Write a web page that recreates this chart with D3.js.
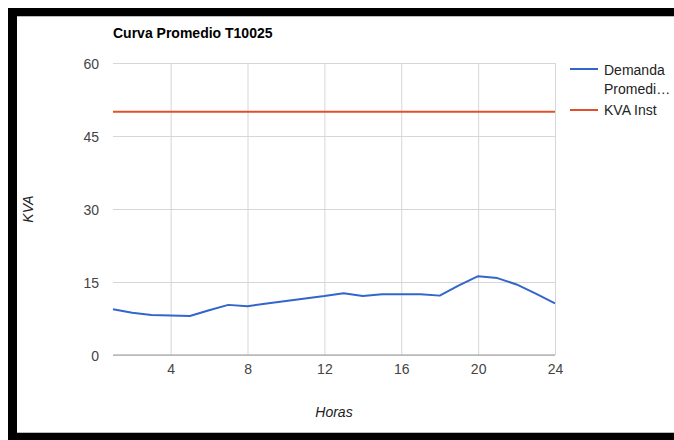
<!DOCTYPE html>
<html>
<head>
<meta charset="utf-8">
<script src="https://cdn.jsdelivr.net/npm/d3@7"></script>
<style>
  body { margin: 0; background: #fff; }
  svg { display: block; font-family: "Liberation Sans", Arial, sans-serif; }
  .grid line { stroke: #d6d6d6; stroke-width: 1; }
  .grid .domain { display: none; }
  .tick text { fill: #444; font-size: 14px; font-family: "Liberation Sans", Arial, sans-serif; }
</style>
</head>
<body>
<div id="chart"></div>
<script>
// Chart data
const hours = [1, 2, 3, 4, 5, 6, 7, 8, 9, 10, 11, 12, 13, 14, 15, 16, 17, 18, 19, 20, 21, 22, 23, 24];
const demanda = [9.4, 8.7, 8.2, 8.1, 8.0, 9.2, 10.3, 10.0, 10.6, 11.1, 11.6, 12.1,
                 12.7, 12.1, 12.5, 12.5, 12.5, 12.2, 14.3, 16.2, 15.8, 14.5, 12.6, 10.6];
const kvaInst = [50, 50, 50, 50, 50, 50, 50, 50, 50, 50, 50, 50,
                 50, 50, 50, 50, 50, 50, 50, 50, 50, 50, 50, 50];
const xTicks = [4, 8, 12, 16, 20, 24];
const yTicks = [0, 15, 30, 45, 60];
const seriesNames = ["Demanda Promedi\u2026", "KVA Inst"];
const seriesColors = ["#3366cc", "#e0502c"];

const W = 674, H = 440;
const margin = {top: 63, right: 119, bottom: 85, left: 113};
const width = W - margin.left - margin.right;
const height = H - margin.top - margin.bottom;

const svg = d3.select("#chart").append("svg")
    .attr("width", W)
    .attr("height", H);

// black frame (top, left, bottom)
svg.append("rect").attr("x", 8).attr("y", 8).attr("width", W - 8).attr("height", 8).attr("fill", "#000");
svg.append("rect").attr("x", 8).attr("y", 8).attr("width", 9).attr("height", H - 8).attr("fill", "#000");
svg.append("rect").attr("x", 8).attr("y", 433).attr("width", W - 8).attr("height", 7).attr("fill", "#000");
svg.append("line").attr("x1", 17).attr("x2", W).attr("y1", 16.5).attr("y2", 16.5).attr("stroke", "#bbb");
svg.append("line").attr("x1", 17).attr("x2", W).attr("y1", 432.5).attr("y2", 432.5).attr("stroke", "#bbb");

const g = svg.append("g")
    .attr("transform", "translate(" + margin.left + "," + margin.top + ")");

// scales
const x = d3.scaleLinear().domain([1, 24]).range([0, width]);
const y = d3.scaleLinear().domain([0, 60]).range([height, 0]);

// gridlines + tick labels
g.append("g")
    .attr("class", "grid y-grid")
    .call(d3.axisLeft(y).tickValues(yTicks).tickSize(-width).tickPadding(14))
    .call(a => a.selectAll(".tick text").attr("dy", "0.36em"));

g.append("g")
    .attr("class", "grid x-grid")
    .attr("transform", "translate(0," + height + ")")
    .call(d3.axisBottom(x).tickValues(xTicks).tickSize(-height).tickPadding(9));

// baseline at 0
g.append("line")
    .attr("x1", 0).attr("x2", width)
    .attr("y1", y(0)).attr("y2", y(0))
    .attr("stroke", "#999");

// lines
const line = d3.line()
    .x((d, i) => x(hours[i]))
    .y(d => y(d));

[demanda, kvaInst].forEach((s, i) => {
    g.append("path")
        .datum(s)
        .attr("fill", "none")
        .attr("stroke", seriesColors[i])
        .attr("stroke-width", 2)
        .attr("stroke-linejoin", "round")
        .attr("d", line);
});

// title
svg.append("text")
    .attr("x", 113).attr("y", 38)
    .attr("font-size", "14px")
    .attr("font-weight", "bold")
    .attr("fill", "#000")
    .text("Curva Promedio T10025");

// axis titles
svg.append("text")
    .attr("transform", "translate(33," + (margin.top + height / 2) + ") rotate(-90)")
    .attr("text-anchor", "middle")
    .attr("font-size", "14px")
    .attr("font-style", "italic")
    .attr("fill", "#222")
    .text("KVA");

svg.append("text")
    .attr("x", margin.left + width / 2).attr("y", 417)
    .attr("text-anchor", "middle")
    .attr("font-size", "14px")
    .attr("font-style", "italic")
    .attr("fill", "#222")
    .text("Horas");

// legend
const legend = svg.append("g").attr("transform", "translate(570,0)");
const legendY = [69, 110];
legend.selectAll("line")
    .data(seriesNames)
    .join("line")
    .attr("x1", 0).attr("x2", 28)
    .attr("y1", (d, i) => legendY[i]).attr("y2", (d, i) => legendY[i])
    .attr("stroke", (d, i) => seriesColors[i])
    .attr("stroke-width", 2);

legend.append("text")
    .attr("x", 34).attr("y", 75)
    .attr("font-size", "14px").attr("fill", "#222")
    .call(t => {
        t.append("tspan").attr("x", 34).text("Demanda");
        t.append("tspan").attr("x", 34).attr("dy", 18.5).text("Promedi\u2026");
    });

legend.append("text")
    .attr("x", 34).attr("y", 115)
    .attr("font-size", "14px").attr("fill", "#222")
    .text(seriesNames[1]);
</script>
</body>
</html>
